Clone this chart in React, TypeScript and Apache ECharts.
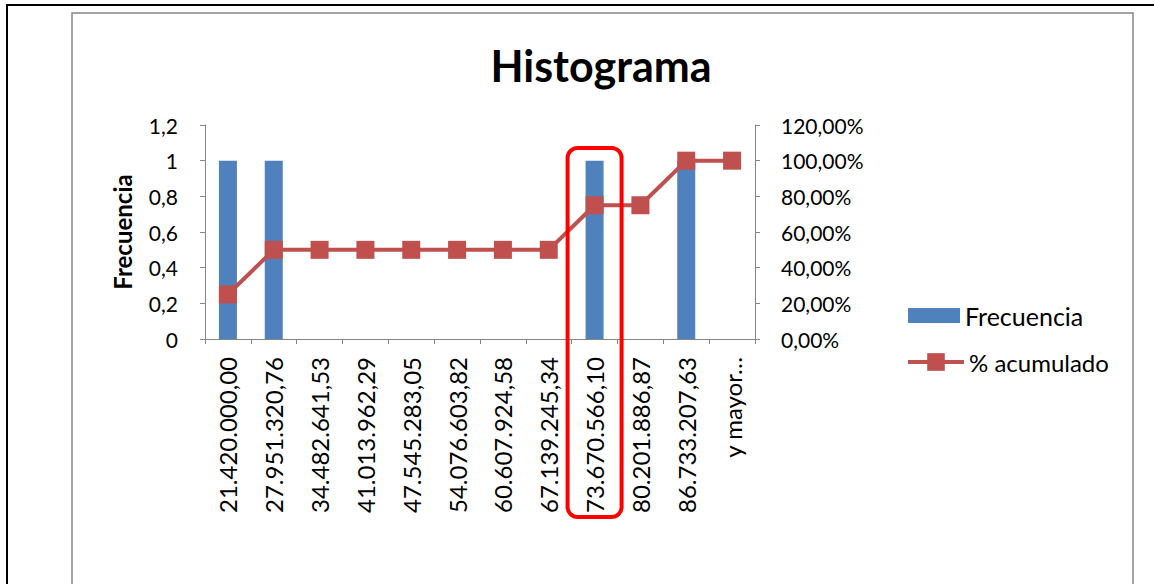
import React, { useEffect, useRef } from "react";
import * as echarts from "echarts";

const categories = [
  "21.420.000,00",
  "27.951.320,76",
  "34.482.641,53",
  "41.013.962,29",
  "47.545.283,05",
  "54.076.603,82",
  "60.607.924,58",
  "67.139.245,34",
  "73.670.566,10",
  "80.201.886,87",
  "86.733.207,63",
  "y mayor…",
];
const frecuencia = [1, 1, 0, 0, 0, 0, 0, 0, 1, 0, 1, 0];
const acumulado = [0.25, 0.5, 0.5, 0.5, 0.5, 0.5, 0.5, 0.5, 0.75, 0.75, 1, 1];
const highlightIndex = 8;

const FONT = "Lato";
const AXIS_GRAY = "#868686";

export default function App() {
  const ref = useRef<HTMLDivElement>(null);
  useEffect(() => {
    if (!ref.current) return;
    const chart = echarts.init(ref.current, null, { renderer: "svg" });
    const fmtLeft = (v: number) => String(Number(v.toFixed(1))).replace(".", ",");
    const fmtRight = (v: number) => (v * 100).toFixed(2).replace(".", ",") + "%";
    const option: any = {
      animation: false,
      backgroundColor: "#ffffff",
      textStyle: { fontFamily: FONT },
      title: {
        text: "Histograma",
        left: 596,
        textAlign: "center",
        top: 39,
        textStyle: { fontFamily: FONT, fontWeight: "bold", fontSize: 43, color: "#000" },
      },
      grid: { left: 205, right: 399, top: 125, bottom: 245 },
      legend: [
        {
          data: [{ name: "Frecuencia", icon: "rect" }],
          left: 903,
          top: 298,
          itemWidth: 52,
          itemHeight: 15,
          textStyle: { fontFamily: FONT, fontSize: 25, color: "#000" },
        },
        {
          data: ["% acumulado"],
          left: 901,
          top: 345,
          itemWidth: 56,
          itemHeight: 22,
          lineStyle: { width: 4 },
          textStyle: { fontFamily: FONT, fontSize: 24, color: "#000" },
        },
      ],
      xAxis: {
        type: "category",
        data: categories,
        axisLine: { lineStyle: { color: AXIS_GRAY, width: 1 } },
        axisTick: { show: true, interval: 0, length: 5, lineStyle: { color: AXIS_GRAY } },
        axisLabel: {
          interval: 0,
          rotate: 90,
          margin: 18,
          fontFamily: FONT,
          fontSize: 24,
          color: "#000",
        },
      },
      yAxis: [
        {
          type: "value",
          min: 0,
          max: 1.2,
          interval: 0.2,
          name: "Frecuencia",
          nameLocation: "middle",
          nameGap: 71,
          nameTextStyle: { fontFamily: FONT, fontWeight: "bold", fontSize: 24, color: "#000" },
          axisLine: { show: true, lineStyle: { color: AXIS_GRAY, width: 1 } },
          axisTick: { show: true, length: 5, lineStyle: { color: AXIS_GRAY } },
          splitLine: { show: false },
          axisLabel: { formatter: fmtLeft, margin: 27, fontFamily: FONT, fontSize: 21, color: "#000" },
        },
        {
          type: "value",
          min: 0,
          max: 1.2,
          interval: 0.2,
          position: "right",
          axisLine: { show: true, lineStyle: { color: AXIS_GRAY, width: 1 } },
          axisTick: { show: true, length: 5, lineStyle: { color: AXIS_GRAY } },
          splitLine: { show: false },
          axisLabel: { formatter: fmtRight, margin: 26, fontFamily: FONT, fontSize: 21, color: "#000" },
        },
      ],
      series: [
        {
          name: "Frecuencia",
          type: "bar",
          data: frecuencia,
          barWidth: 18,
          yAxisIndex: 0,
          itemStyle: { color: "#4F81BD" },
        },
        {
          name: "% acumulado",
          type: "line",
          data: acumulado,
          yAxisIndex: 1,
          symbol: "rect",
          symbolSize: 18,
          lineStyle: { color: "#C0504D", width: 4 },
          itemStyle: { color: "#C0504D" },
          z: 3,
        },
      ],
    };
    chart.setOption(option);
    const cx = chart.convertToPixel({ xAxisIndex: 0 }, highlightIndex) as number;
    chart.setOption({
      graphic: [
        { type: "line", shape: { x1: 7, y1: 5, x2: 7, y2: 584 }, style: { stroke: "#000", lineWidth: 2 } },
        { type: "line", shape: { x1: 6, y1: 5, x2: 1154, y2: 5 }, style: { stroke: "#000", lineWidth: 2 } },
        {
          type: "rect",
          shape: { x: 72, y: 13, width: 1061, height: 620 },
          style: { fill: "none", stroke: AXIS_GRAY, lineWidth: 1.5 },
          silent: true,
        },
        {
          type: "rect",
          shape: { x: cx - 27, y: 148, width: 54, height: 369, r: 10 },
          style: { fill: "none", stroke: "#FF0000", lineWidth: 4 },
          z: 100,
          silent: true,
        },
      ],
    });
    return () => chart.dispose();
  }, []);
  return (
    <div
      ref={ref}
      style={{ position: "absolute", left: 0, top: 0, width: 1154, height: 584 }}
    />
  );
}
